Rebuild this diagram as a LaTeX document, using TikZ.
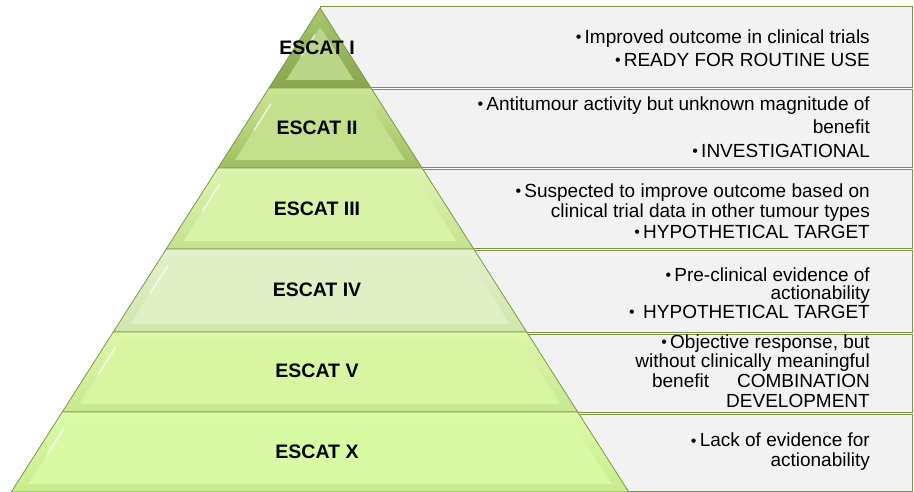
\documentclass[tikz,border=0pt]{standalone}
\usepackage{fontspec}
\setmainfont{Liberation Sans}
\usetikzlibrary{calc}
\definecolor{boxgray}{RGB}{242,242,242}
\definecolor{boxline}{RGB}{125,150,70}
\definecolor{layAa}{RGB}{168,198,108}
\definecolor{layAb}{RGB}{136,166,78}
\definecolor{layAc}{RGB}{186,212,136}
\definecolor{layBa}{RGB}{205,230,150}
\definecolor{layBb}{RGB}{160,190,95}
\definecolor{layBc}{RGB}{196,224,140}
\definecolor{layCa}{RGB}{222,244,178}
\definecolor{layCb}{RGB}{196,226,142}
\definecolor{layCc}{RGB}{216,242,168}
\definecolor{layDa}{RGB}{228,240,204}
\definecolor{layDb}{RGB}{208,230,172}
\definecolor{layDc}{RGB}{224,240,196}
\definecolor{layEa}{RGB}{222,247,172}
\definecolor{layEb}{RGB}{198,232,144}
\definecolor{layEc}{RGB}{216,246,162}
\definecolor{layFa}{RGB}{220,252,168}
\definecolor{layFb}{RGB}{198,236,140}
\definecolor{layFc}{RGB}{216,250,162}
\newcommand\bul{\raisebox{.5pt}{\fontsize{16}{16}\selectfont•}\,}
\begin{document}
\begin{tikzpicture}[x=1pt,y=-1pt,
	panel/.style={fill=boxgray,draw=boxline,line width=1pt},
	level/.style={font=\fontsize{19.5}{21}\selectfont\bfseries},
	note/.style={anchor=east,align=right,inner sep=0pt}]
	\useasboundingbox (0,0) rectangle (914,492);
	% grey panels, the pyramid hides their left part
	\foreach \t/\b in {7/88,90/168,170/249,251/332,334/412,414/491}
		\draw [panel] (320,\t) rectangle (912,\b);
	% pyramid layers, apex at (320,8)
	\foreach \t/\b/\c in {8/88/A,88/168/B,168/249/C,249/332/D,332/412/E,412/492/F}{
		\pgfmathsetmacro\dt{0.638*(\t-8)}
		\pgfmathsetmacro\db{0.638*(\b-8)}
		\pgfmathsetmacro\ti{max(\t+6,27)}
		\pgfmathsetmacro\di{0.638*(\ti-8)-12}
		\pgfmathsetmacro\dd{0.638*(\b-16)-12}
		\shade [top color=lay\c a,bottom color=lay\c b,draw=boxline,line width=.8pt]
			(320-\dt,\t) -- (320+\dt,\t) -- (320+\db,\b) -- (320-\db,\b) -- cycle;
		\fill [lay\c c] (320-\di,\ti) -- (320+\di,\ti) -- (320+\dd,\b-8) -- (320-\dd,\b-8) -- cycle;
		\draw [white,opacity=.7,line width=1.5pt,line cap=round]
			($(320-\di,\ti)!.15!(320-\dd,\b-8)$) -- ($(320-\di,\ti)!.55!(320-\dd,\b-8)$);
	}
	% level names
	\foreach \n/\y/\lab in {1/48/I,2/128/II,3/209/III,4/290/IV,5/371/V,6/452/X}
		\node [level] (lvl\n) at (317,\y) {ESCAT \lab};
	% descriptions
	\node [note,font=\fontsize{19}{23}\selectfont] (note1) at (870,48)
		{\bul Improved outcome in clinical trials\\ \bul READY FOR ROUTINE USE};
	\node [note,font=\fontsize{19}{23.5}\selectfont] (note2) at (870,127)
		{\bul Antitumour activity but unknown magnitude of\\ benefit\\ \bul INVESTIGATIONAL};
	\node [note,font=\fontsize{19}{20.5}\selectfont] (note3) at (870,211)
		{\bul Suspected to improve outcome based on\\ clinical trial data in other tumour types\\ \bul HYPOTHETICAL TARGET};
	\node [note,font=\fontsize{19}{18.5}\selectfont] (note4) at (870,293)
		{\bul Pre-clinical evidence of\\ actionability\\ \bul\ HYPOTHETICAL TARGET};
	\node [note,font=\fontsize{19}{19.7}\selectfont] (note5) at (870,371)
		{\bul Objective response, but\\ without clinically meaningful\\ benefit\hspace{28pt}COMBINATION\\ DEVELOPMENT};
	\node [note,font=\fontsize{19}{20}\selectfont] (note6) at (870,452)
		{\bul Lack of evidence for\\ actionability};
\end{tikzpicture}
\end{document}
